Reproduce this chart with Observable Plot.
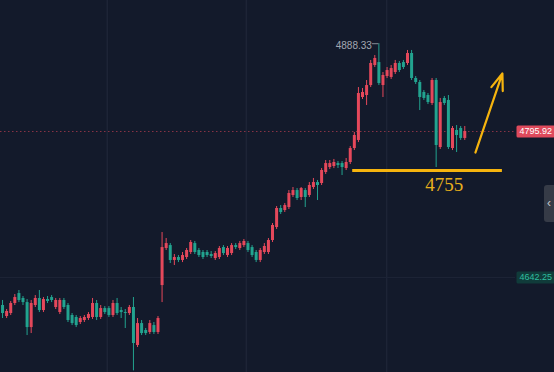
<!DOCTYPE html>
<html><head><meta charset="utf-8">
<script src="https://cdn.jsdelivr.net/npm/d3@7"></script>
<script src="https://cdn.jsdelivr.net/npm/@observablehq/plot@0.6"></script>
<style>
html,body{margin:0;padding:0;background:#131a2b;}
#chart{width:554px;height:372px;position:relative;overflow:hidden;}
</style></head><body><div id="chart"></div>
<script>
const open = [4612.8,4601.2,4604.4,4614.9,4625.4,4620.2,4615.9,4589.6,4612.8,4620.2,
4607.5,4619.1,4621.2,4610.7,4605.4,4618.1,4612.8,4602.3,4600.2,4594.9,
4597.0,4599.1,4600.2,4614.9,4600.2,4609.6,4609.6,4602.3,4614.9,4607.5,
4605.4,4604.4,4610.7,4570.7,4593.8,4586.5,4584.4,4591.7,4584.4,4633.8,
4672.8,4675.9,4660.2,4663.3,4660.2,4663.3,4668.6,4678.0,4670.7,4668.6,
4668.6,4666.5,4662.3,4663.3,4673.8,4665.4,4667.5,4675.9,4672.8,4675.9,
4678.0,4673.8,4668.6,4660.2,4668.6,4668.6,4681.2,4694.9,4714.9,4712.8,
4715.9,4728.6,4733.8,4726.5,4733.8,4728.6,4737.0,4742.2,4741.2,4752.8,
4758.0,4759.1,4762.2,4762.2,4757.0,4763.3,4778.0,4786.5,4831.7,4833.8,
4844.3,4865.4,4868.5,4844.3,4853.8,4852.8,4858.0,4867.5,4868.5,4867.5,
4878.0,4851.7,4847.5,4837.0,4833.8,4825.4,4849.6,4779.1,4830.7,4828.6,
4778.0,4797.0,4799.1,4788.6];
const high = [4618.1,4608.6,4617.0,4624.4,4628.6,4622.3,4619.1,4618.1,4623.3,4628.6,
4621.2,4622.3,4623.3,4620.2,4620.2,4620.2,4614.9,4604.4,4602.3,4601.2,
4602.3,4605.4,4620.2,4618.1,4612.8,4611.7,4611.7,4618.1,4620.2,4610.7,
4608.6,4612.8,4621.2,4599.1,4597.0,4588.6,4597.0,4594.9,4601.2,4689.6,
4683.3,4678.0,4666.5,4665.4,4668.6,4672.8,4681.2,4680.2,4672.8,4670.7,
4670.7,4669.6,4669.6,4674.9,4675.9,4674.9,4678.0,4678.0,4680.2,4682.3,
4680.2,4675.9,4670.7,4672.8,4678.0,4683.3,4699.1,4717.0,4718.0,4720.1,
4733.8,4737.0,4735.9,4737.0,4735.9,4742.2,4746.5,4744.4,4757.0,4765.4,
4765.4,4766.5,4764.3,4764.3,4767.5,4780.1,4794.9,4842.2,4841.2,4849.6,
4870.7,4875.9,4888.33,4858.0,4863.3,4865.4,4870.7,4869.6,4870.7,4881.2,
4881.2,4853.8,4849.6,4839.1,4835.9,4851.7,4851.7,4830.7,4832.8,4833.8,
4801.2,4802.2,4801.2,4801.2];
const low = [4599.1,4599.1,4602.3,4612.8,4615.9,4612.8,4581.2,4583.3,4610.7,4605.4,
4605.4,4614.9,4615.9,4608.6,4603.3,4608.6,4594.9,4591.7,4589.6,4592.8,
4594.9,4597.0,4598.1,4597.0,4598.1,4603.3,4600.2,4600.2,4602.3,4599.1,
4588.6,4602.3,4544.0,4568.6,4581.2,4581.2,4582.3,4582.3,4582.3,4615.9,
4670.7,4657.0,4654.9,4658.0,4658.0,4661.2,4666.5,4666.5,4663.3,4661.2,
4663.3,4662.3,4660.2,4661.2,4665.4,4663.3,4665.4,4671.7,4670.7,4673.8,
4668.6,4663.3,4658.0,4658.0,4666.5,4666.5,4679.1,4692.8,4708.6,4710.7,
4713.8,4726.5,4723.3,4723.3,4715.9,4726.5,4734.9,4723.3,4739.1,4750.7,
4755.9,4756.9,4757.0,4749.6,4754.9,4761.2,4775.9,4784.3,4829.6,4823.3,
4842.2,4863.3,4844.3,4831.7,4851.7,4850.7,4855.9,4858.0,4861.2,4865.4,
4849.6,4845.4,4818.0,4828.6,4824.3,4823.3,4758.0,4777.0,4823.3,4777.0,
4775.9,4773.8,4786.5,4786.5];
const close = [4604.4,4606.5,4614.9,4621.2,4618.1,4615.9,4589.6,4614.9,4620.2,4607.5,
4619.1,4617.0,4618.1,4618.1,4618.1,4610.7,4597.0,4593.8,4591.7,4599.1,
4600.2,4603.3,4614.9,4600.2,4609.6,4605.4,4602.3,4614.9,4604.4,4605.4,
4604.4,4610.7,4572.8,4593.8,4583.3,4583.3,4593.8,4584.4,4599.1,4673.8,
4678.0,4660.2,4663.3,4660.2,4665.4,4670.7,4679.1,4668.6,4665.4,4663.3,
4665.4,4664.4,4667.5,4672.8,4667.5,4672.8,4675.9,4673.8,4678.0,4680.2,
4670.7,4665.4,4660.2,4670.7,4674.9,4681.2,4697.0,4714.9,4710.7,4718.0,
4730.7,4733.8,4725.4,4735.9,4726.5,4739.1,4742.2,4739.1,4754.9,4762.2,
4762.2,4763.3,4760.1,4758.0,4763.3,4778.0,4791.7,4835.9,4837.0,4844.3,
4867.5,4872.8,4846.4,4854.9,4860.1,4862.2,4867.5,4860.1,4863.3,4878.0,
4851.7,4847.5,4831.7,4830.7,4826.4,4849.6,4781.2,4826.4,4825.4,4779.1,
4799.1,4791.7,4788.6,4795.92];

// time grid ticks (bar index), price labels and annotations
const timeGrid = [25.6, 59.6, 93.9];
const priceGrid = [4642.25];
const axisPrices = [4795.92, 4642.25];
const axisTextColors = ["#ffffff", "#2fbf9f"];
const axisBoxColors = ["#df4a5c", "#103b3a"];
const supportLevel = 4755;
const supportFrom = 85.6, supportTo = 122.2, supportLabelAt = 108;
const arrowFrom = {x: 115.6, y: 4773.8}, arrowTo = {x: 122.2, y: 4857.0};

const UP = "#e5485b", DOWN = "#22a38f", GOLD = "#f6b40e";

const candles = open.map((o, i) => ({i, open: o, high: high[i], low: low[i], close: close[i]}));
const ups = candles.filter(d => d.close >= d.open);
const downs = candles.filter(d => d.close < d.open);
const last = candles[candles.length - 1];
const peak = candles.reduce((a, b) => (b.high > a.high ? b : a));

const svg = Plot.plot({
  width: 554, height: 372,
  marginLeft: 0, marginTop: 0, marginBottom: 0, marginRight: 39,
  x: {domain: [-0.5, 125.4], axis: null},
  y: {domain: [4542.3, 4933.8], axis: null},
  style: {background: "#131a2b", fontFamily: "Liberation Sans, Arial, sans-serif"},
  marks: [
    Plot.ruleX(timeGrid, {stroke: "#1d2436", strokeWidth: 1.5}),
    Plot.ruleY(priceGrid, {stroke: "#1d2436", strokeWidth: 1}),
    Plot.ruleY([last.close], {stroke: UP, strokeOpacity: 0.55, strokeDasharray: "1.5,2.5"}),
    Plot.ruleX(ups, {x: "i", y1: "low", y2: "high", stroke: UP, strokeWidth: 1}),
    Plot.ruleX(downs, {x: "i", y1: "low", y2: "high", stroke: DOWN, strokeWidth: 1}),
    Plot.ruleX(ups, {x: "i", y1: "open", y2: "close", stroke: UP, strokeWidth: 3}),
    Plot.ruleX(downs, {x: "i", y1: "open", y2: "close", stroke: DOWN, strokeWidth: 3}),
    Plot.ruleY([peak.high], {x1: peak.i - 1.6, x2: peak.i, stroke: "#8a8e99", strokeWidth: 1}),
    Plot.text([peak], {x: "i", y: "high", text: d => d.high.toFixed(2), textAnchor: "end", dx: -7, dy: 2, fill: "#a3a7b1", fontSize: 10}),
    Plot.ruleY([supportLevel], {x1: supportFrom, x2: supportTo, stroke: GOLD, strokeWidth: 3}),
    Plot.text([supportLevel], {x: supportLabelAt, y: d => d, text: d => String(d), dy: 15, fill: "#e8b01c", fontSize: 19, fontFamily: "Liberation Serif, serif"}),
    Plot.arrow([{a: arrowFrom, b: arrowTo}], {x1: d => d.a.x, y1: d => d.a.y, x2: d => d.b.x, y2: d => d.b.y, stroke: GOLD, strokeWidth: 2.2, headLength: 12, headAngle: 40}),
    Plot.text(axisPrices, {y: d => d, frameAnchor: "right", textAnchor: "start", dx: 4, text: d => d.toFixed(2), fill: (d, k) => axisTextColors[k], fontSize: 9})
  ]
});
document.getElementById("chart").append(svg);

const labelStrings = axisPrices.map(p => p.toFixed(2));
d3.select(svg).selectAll("text").each(function () {
  const el = this;
  const k = labelStrings.indexOf(el.textContent);
  if (k < 0 || el.closest("g") === null) return;
  const b = el.getBBox();
  const r = document.createElementNS("http://www.w3.org/2000/svg", "rect");
  const t = el.getAttribute("transform");
  if (t) r.setAttribute("transform", t);
  r.setAttribute("x", b.x - 3);
  r.setAttribute("y", b.y - 1);
  r.setAttribute("width", b.width + 6);
  r.setAttribute("height", b.height + 2);
  r.setAttribute("rx", 1.5);
  r.setAttribute("fill", axisBoxColors[k]);
  el.parentNode.insertBefore(r, el);
});
// side handle
const h = d3.select(svg).append("g");
h.append("rect").attr("x", 544).attr("y", 185).attr("width", 14).attr("height", 37).attr("rx", 3).attr("fill", "#363b47");
h.append("text").attr("x", 549).attr("y", 207).attr("fill", "#c3c6cc").attr("font-size", 12).attr("text-anchor", "middle").text("‹");
</script>
</body></html>
